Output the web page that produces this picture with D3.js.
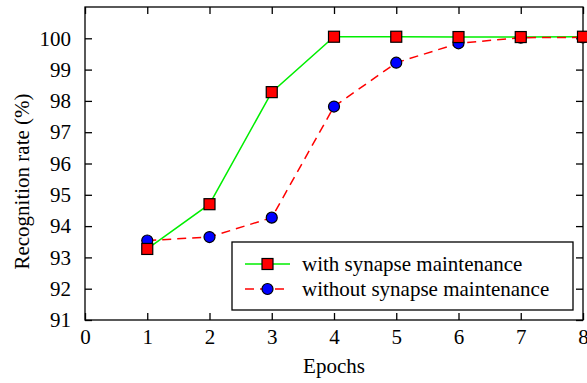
<!DOCTYPE html>
<html>
<head>
<meta charset="utf-8">
<script src="https://cdn.jsdelivr.net/npm/d3@7"></script>
</head>
<body style="margin:0">
<svg id="chart" width="587" height="383" font-family="Liberation Serif" font-size="21"></svg>
<script>
// data
const epochs = [1, 2, 3, 4, 5, 6, 7, 8];
const withMaint = [93.27, 94.7, 98.28, 100.05, 100.05, 100.04, 100.04, 100.05];
const withoutMaint = [93.54, 93.65, 94.27, 97.82, 99.22, 99.84, 100.02, 100.03];
const xTicks = [0, 1, 2, 3, 4, 5, 6, 7, 8];
const yTicks = [91, 92, 93, 94, 95, 96, 97, 98, 99, 100];
const seriesNames = ["with synapse maintenance", "without synapse maintenance"];

let font = "Times New Roman";
let fs = 21;

let margin = { top: 7, left: 85, right: 4, bottom: 63 },
  W = 587, H = 383,
  width = W - margin.left - margin.right,
  height = H - margin.top - margin.bottom;

let svg = d3.select("#chart");

let g = svg.append("g")
  .attr("transform", "translate(" + margin.left + "," + margin.top + ")");

let x = d3.scaleLinear().domain([0, 8]).range([0, width]);
let y = d3.scaleLinear().domain([91, 101]).range([height, 0]);

// axes, ticks pointing inward
function styleAxis(a) {
  a.attr("font-family", null).attr("font-size", null);
  a.select(".domain").remove();
  a.selectAll("text").attr("fill", "#000");
}
g.append("g").attr("transform", "translate(0," + height + ")")
  .call(d3.axisBottom(x).tickValues(xTicks).tickSizeInner(-7).tickSizeOuter(0).tickPadding(9))
  .call(styleAxis);
g.append("g")
  .call(d3.axisTop(x).tickValues(xTicks).tickSizeInner(-7).tickSizeOuter(0).tickFormat(""))
  .call(styleAxis);
g.append("g")
  .call(d3.axisLeft(y).tickValues(yTicks).tickSizeInner(-7).tickSizeOuter(0).tickPadding(14))
  .call(styleAxis);
g.append("g").attr("transform", "translate(" + width + ",0)")
  .call(d3.axisRight(y).tickValues(yTicks).tickSizeInner(-7).tickSizeOuter(0).tickFormat(""))
  .call(styleAxis);
g.selectAll(".tick line").attr("stroke", "#000").attr("stroke-width", 1.3);

g.append("rect")
  .attr("width", width).attr("height", height)
  .attr("fill", "none").attr("stroke", "#000").attr("stroke-width", 1.3);

// axis titles
svg.append("text")
  .attr("x", 334).attr("y", 373)
  .attr("text-anchor", "middle")
  .text("Epochs");
svg.append("text")
  .attr("transform", "translate(29,181.5) rotate(-90)")
  .attr("text-anchor", "middle")
  .text("Recognition rate (%)");

let line = d3.line().x(d => x(d[0])).y(d => y(d[1]));
let withPts = epochs.map((e, i) => [e, withMaint[i]]);
let withoutPts = epochs.map((e, i) => [e, withoutMaint[i]]);

g.append("path").datum(withPts).attr("d", line)
  .attr("fill", "none").attr("stroke", "#00ee00").attr("stroke-width", 1.5);
g.append("path").datum(withoutPts).attr("d", line)
  .attr("fill", "none").attr("stroke", "#ff0000").attr("stroke-width", 1.5)
  .attr("stroke-dasharray", "9,6");

g.selectAll(".dot").data(withoutPts).enter().append("circle")
  .attr("cx", d => x(d[0])).attr("cy", d => y(d[1])).attr("r", 5.5)
  .attr("fill", "#0000ff").attr("stroke", "#000").attr("stroke-width", 1.2);
g.selectAll(".sq").data(withPts).enter().append("rect")
  .attr("x", d => x(d[0]) - 5.5).attr("y", d => y(d[1]) - 5.5)
  .attr("width", 11).attr("height", 11)
  .attr("fill", "#ff0000").attr("stroke", "#000").attr("stroke-width", 1.2);

// legend
let lg = svg.append("g").attr("transform", "translate(232,242)");
lg.append("rect").attr("width", 341).attr("height", 68)
  .attr("fill", "#fff").attr("stroke", "#000").attr("stroke-width", 1.3);

let items = lg.selectAll(".item")
  .data([
    { label: seriesNames[0], color: "#00ee00", dash: null, mark: "sq" },
    { label: seriesNames[1], color: "#ff0000", dash: "9,6", mark: "dot" }
  ])
  .enter().append("g")
  .attr("transform", (d, i) => "translate(0," + (22 + i * 25) + ")");
items.append("line")
  .attr("x1", 13).attr("x2", 58)
  .attr("stroke", d => d.color).attr("stroke-width", 1.5)
  .attr("stroke-dasharray", d => d.dash);
items.filter(d => d.mark == "sq").append("rect")
  .attr("x", 30).attr("y", -5.5).attr("width", 11).attr("height", 11)
  .attr("fill", "#ff0000").attr("stroke", "#000").attr("stroke-width", 1.2);
items.filter(d => d.mark == "dot").append("circle")
  .attr("cx", 35.5).attr("r", 5.5)
  .attr("fill", "#0000ff").attr("stroke", "#000").attr("stroke-width", 1.2);
items.append("text")
  .attr("x", 70).attr("dy", "0.33em")
  .text(d => d.label);

svg.selectAll("text")
  .attr("font-family", font)
  .attr("font-size", fs);
</script>
</body>
</html>
